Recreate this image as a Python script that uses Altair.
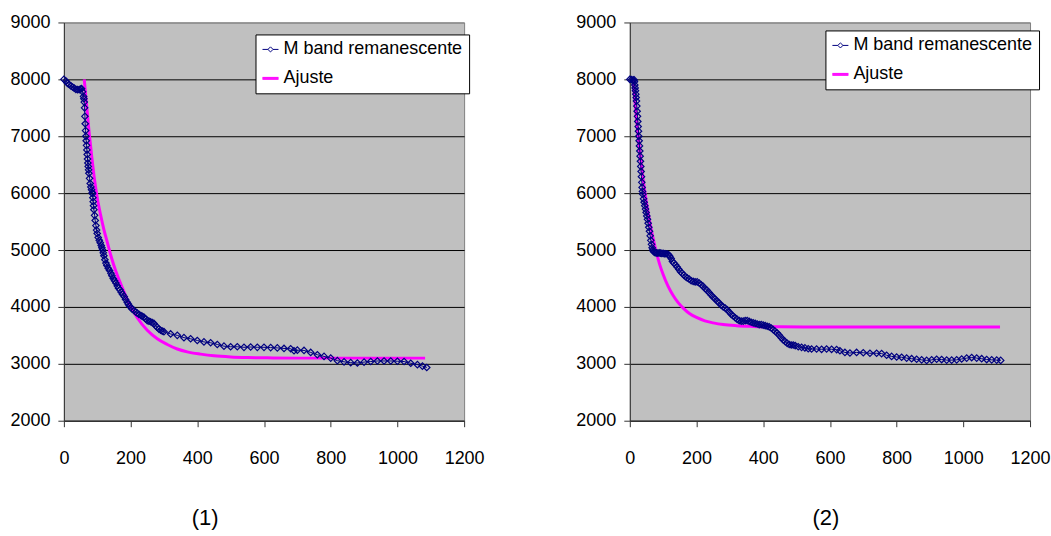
import altair as alt
import pandas as pd

NAMES = ["M band remanescente", "Ajuste"]
NAVY = "#000080"
MAGENTA = "#FF00FF"
FONT = "Liberation Sans"
FS = 18

x_ticks = [0, 200, 400, 600, 800, 1000, 1200]
y_ticks = [2000, 3000, 4000, 5000, 6000, 7000, 8000, 9000]

# ---------- panel (1) ----------
s1_x = [0, 6, 11, 16, 21, 26, 31, 36, 41, 46, 50, 53, 56, 59, 60, 61, 62, 63, 64, 65, 66, 67, 68, 69,
        70, 71, 72, 73, 74, 75, 77, 79, 81, 83, 85, 86, 87, 88, 89, 90, 92, 94, 96, 98, 100, 103,
        106, 109, 112, 114, 116, 118, 120, 123, 126, 129, 133, 137, 141, 144, 148, 152, 156, 160,
        164, 168, 172, 176, 181, 185, 190, 193, 196, 201, 205, 210, 215, 220, 225, 231, 235, 240,
        245, 250, 255, 260, 265, 270, 275, 280, 285, 290, 295, 300, 320, 340, 360, 380, 400, 420,
        440, 460, 480, 500, 520, 540, 560, 580, 600, 620, 640, 660, 680, 690, 700, 720, 740, 760,
        780, 800, 820, 840, 860, 880, 900, 920, 940, 960, 980, 1000, 1020, 1040, 1060, 1075, 1088]
s1_y = [8000, 7970, 7930, 7910, 7885, 7865, 7845, 7825, 7820, 7820, 7830, 7836, 7780, 7700, 7660,
        7600, 7500, 7350, 7220, 7100, 7000, 6920, 6840, 6760, 6680, 6600, 6530, 6470, 6410, 6350,
        6260, 6170, 6110, 6060, 6010, 5990, 5920, 5850, 5780, 5710, 5610, 5520, 5430, 5350, 5290,
        5220, 5170, 5130, 5080, 5040, 5000, 4950, 4900, 4830, 4770, 4730, 4680, 4640, 4590, 4550,
        4500, 4460, 4420, 4370, 4330, 4300, 4260, 4220, 4180, 4130, 4080, 4050, 4020, 3990, 3960,
        3940, 3910, 3890, 3870, 3850, 3835, 3820, 3790, 3760, 3750, 3740, 3725, 3710, 3670, 3640,
        3610, 3590, 3575, 3565, 3525, 3500, 3460, 3440, 3410, 3385, 3370, 3340, 3310, 3300, 3300,
        3290, 3295, 3290, 3290, 3285, 3280, 3270, 3265, 3230, 3240, 3235, 3200, 3160, 3130, 3100,
        3055, 3035, 3020, 3015, 3030, 3040, 3050, 3050, 3050, 3045, 3040, 3010, 2985, 2960, 2935]

f1_x = [61, 68, 76, 84, 92, 100, 110, 120, 130, 141, 155, 170, 185, 200, 220, 250, 280, 310, 340,
        370, 410, 450, 500, 550, 610, 700, 800, 900, 1000, 1083]
f1_y = [8000, 7550, 7050, 6620, 6230, 5920, 5620, 5360, 5140, 4900, 4640, 4410, 4200, 4010, 3810,
        3590, 3440, 3340, 3260, 3210, 3170, 3140, 3120, 3110, 3105, 3100, 3100, 3100, 3100, 3100]

# ---------- panel (2) ----------
s2_x = [0, 5, 10, 13, 14, 15, 16, 17, 18, 19, 20, 21, 22, 23, 24, 25, 26, 27, 28, 29, 30, 31, 32,
        33, 34, 35, 36, 37, 38, 39, 41, 43, 45, 47, 49, 51, 53, 55, 57, 59, 61, 63, 65, 67, 69, 71,
        74, 77, 80, 84, 88, 92, 96, 100, 104, 108, 112, 116, 120, 124, 128, 132, 137, 142, 147,
        152, 157, 162, 167, 172, 178, 184, 190, 196, 202, 208, 214, 220, 226, 232, 238, 244, 250,
        256, 262, 268, 274, 280, 286, 292, 298, 304, 310, 316, 322, 328, 334, 340, 346, 352, 358,
        364, 370, 376, 382, 388, 394, 400, 406, 412, 418, 424, 430, 436, 442, 448, 454, 460, 466,
        472, 478, 484, 490, 496, 505, 515, 525, 535, 545, 560, 575, 590, 605, 620, 630, 645, 660,
        680, 700, 720, 740, 755, 770, 785, 800, 815, 830, 845, 860, 875, 890, 905, 920, 935, 950,
        965, 980, 995, 1010, 1025, 1040, 1055, 1070, 1085, 1100, 1112]
s2_y = [8000, 7995, 7990, 7990, 7960, 7900, 7850, 7800, 7740, 7680, 7620, 7530, 7440, 7350, 7260,
        7170, 7090, 7000, 6920, 6830, 6740, 6650, 6560, 6470, 6380, 6290, 6190, 6100, 6030, 5980,
        5900, 5840, 5780, 5720, 5660, 5600, 5540, 5470, 5400, 5330, 5250, 5170, 5100, 5040, 5000,
        4975, 4960, 4955, 4950, 4945, 4950, 4945, 4940, 4940, 4935, 4935, 4930, 4920, 4890, 4850,
        4800, 4770, 4740, 4700, 4660, 4620, 4590, 4560, 4530, 4510, 4490, 4460, 4450, 4440, 4440,
        4420, 4390, 4360, 4320, 4290, 4250, 4210, 4170, 4140, 4100, 4070, 4030, 4000, 3980, 3950,
        3910, 3870, 3840, 3810, 3780, 3760, 3750, 3750, 3760, 3760, 3745, 3730, 3720, 3710, 3700,
        3690, 3690, 3680, 3670, 3660, 3650, 3630, 3600, 3570, 3540, 3500, 3460, 3420, 3390, 3360,
        3340, 3330, 3330, 3320, 3300, 3290, 3280, 3265, 3260, 3260, 3255, 3260, 3255, 3250, 3230,
        3200, 3190, 3200, 3195, 3185, 3185, 3180, 3150, 3130, 3120, 3115, 3100, 3090, 3080, 3070,
        3060, 3070, 3080, 3075, 3065, 3065, 3070, 3085, 3100, 3110, 3100, 3090, 3075, 3070, 3065,
        3060]

f2_x = [10, 15, 20, 25, 30, 35, 40, 50, 60, 70, 80, 90, 100, 115, 130, 145, 160, 180, 200, 225,
        250, 280, 320, 370, 450, 600, 800, 1000, 1110]
f2_y = [8000, 7640, 7310, 7010, 6730, 6480, 6240, 5830, 5490, 5200, 4950, 4740, 4570, 4360, 4200,
        4075, 3980, 3880, 3815, 3755, 3720, 3690, 3670, 3658, 3650, 3648, 3646, 3645, 3645]

PATH_SERIES = "M-1,0H-0.32M0.32,0H1M0,-0.32L0.32,0L0,0.32L-0.32,0Z"
PATH_FIT = "M-1,-0.12H1M-1,-0.04H1M-1,0.04H1M-1,0.12H1"


def panel(sx, sy, fx, fy, caption, cap_x, leg_x, leg_y):
    series = pd.DataFrame({"x": sx, "y": sy})
    fit = pd.DataFrame({"x": fx, "y": fy})
    leg_df = pd.DataFrame({"x": [sx[0], fx[0]], "y": [sy[0], fy[0]], "serie": NAMES})

    xenc = alt.X("x:Q", scale=alt.Scale(domain=[0, 1200], nice=False, zero=False),
                 axis=alt.Axis(values=x_ticks, format="d", grid=False, tickSize=6, labelPadding=23,
                               labelOverlap=False, labelFlush=False,
                               title=caption, titleX=cap_x, titleY=97, titleBaseline="middle",
                               titleAlign="center", titleAngle=0, titleFont=FONT,
                               titleFontSize=22, titleFontWeight="normal", titleColor="black"))
    yenc = alt.Y("y:Q", scale=alt.Scale(domain=[2000, 9000], nice=False, zero=False),
                 axis=alt.Axis(values=y_ticks, format="d", grid=True, tickSize=6, labelPadding=8,
                               labelOverlap=False, labelFlush=False, title=None,
                               gridColor={"condition": {"test": "datum.value === 9000",
                                                        "value": "#808080"},
                                          "value": "#000000"}))
    leg = alt.Legend(title=None, orient="none", legendX=leg_x, legendY=leg_y,
                     fillColor="white", strokeColor="black", padding=6, rowPadding=11,
                     labelFont=FONT, labelFontSize=FS, labelColor="black", labelLimit=400,
                     labelOffset=4, symbolSize=256, symbolStrokeWidth=1, symbolOpacity=1)

    fit_line = alt.Chart(fit).mark_line(color=MAGENTA, strokeWidth=3, interpolate="monotone").encode(
        x=xenc, y=yenc)
    s_line = alt.Chart(series).mark_line(color=NAVY, strokeWidth=1).encode(x=xenc, y=yenc)
    s_pts = alt.Chart(series).mark_point(shape="diamond", filled=False, color=NAVY, size=42,
                                         strokeWidth=1.2, opacity=1).encode(x=xenc, y=yenc)
    legend_layer = alt.Chart(leg_df).mark_point(filled=False, opacity=0).encode(
        x=xenc, y=yenc,
        color=alt.Color("serie:N", scale=alt.Scale(domain=NAMES, range=[NAVY, MAGENTA]), legend=leg),
        shape=alt.Shape("serie:N", scale=alt.Scale(domain=NAMES, range=[PATH_SERIES, PATH_FIT]),
                        legend=leg),
    )
    return alt.layer(fit_line, s_line, s_pts, legend_layer).properties(width=401, height=399)


p1 = panel(s1_x, s1_y, f1_x, f1_y, "(1)", 141, 192, 12)
p2 = panel(s2_x, s2_y, f2_x, f2_y, "(2)", 196, 196, 8)

chart = alt.hconcat(p1, p2, spacing=166, bounds="flush").resolve_scale(
    color="independent", shape="independent"
).resolve_legend(
    color="independent", shape="independent"
).properties(
    padding={"left": 9, "top": 12, "right": 0, "bottom": 2},
    background="white",
).configure_view(
    fill="#C0C0C0", stroke="#808080", strokeWidth=1
).configure_axis(
    labelFont=FONT, labelFontSize=FS, labelColor="black", domainColor="#333333",
    tickColor="#333333", gridWidth=1, domainWidth=1
)

chart.save("out.html", embed_options={"renderer": "svg", "actions": False})
